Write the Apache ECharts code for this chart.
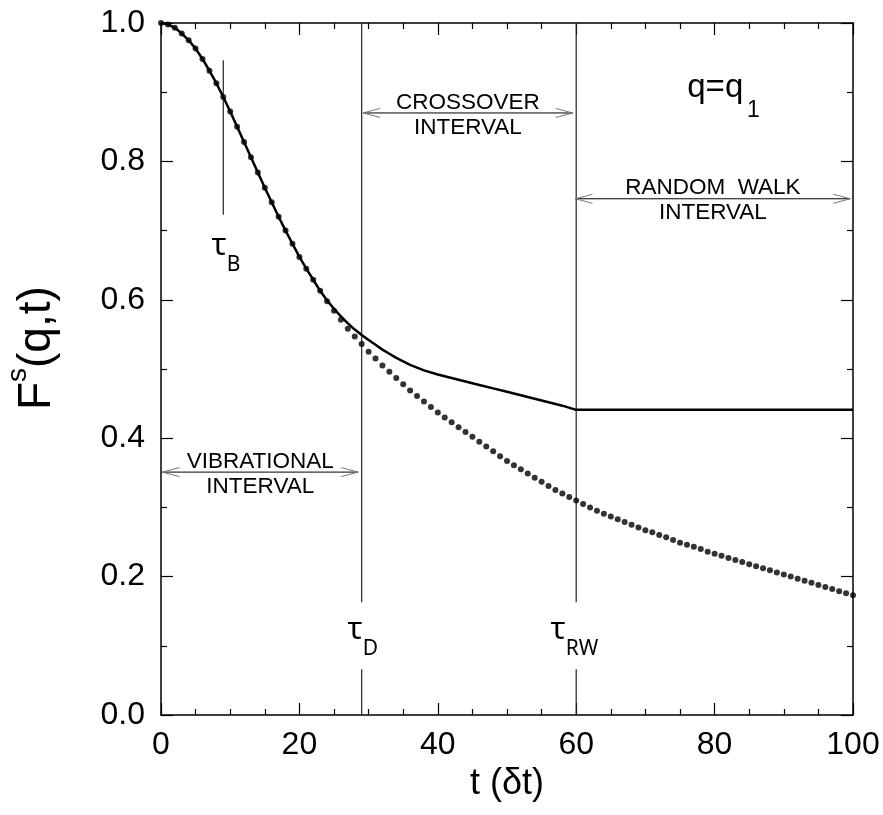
<!DOCTYPE html>
<html><head><meta charset="utf-8">
<script src="https://cdn.jsdelivr.net/npm/echarts@6/dist/echarts.min.js"></script>
<style>html,body{margin:0;padding:0;background:#fff}#c{width:883px;height:815px}</style>
</head><body><div id="c"></div>
<script>
// Dotted curve: one point per time unit, t = 0 .. 100
const fDots = [
 1.000,0.998,0.993,0.985,0.975,0.963,0.948,0.931,0.913,0.893,
 0.872,0.850,0.828,0.806,0.784,0.762,0.741,0.720,0.700,0.681,
 0.662,0.645,0.629,0.613,0.598,0.584,0.571,0.558,0.547,0.536,
 0.525,0.515,0.505,0.496,0.487,0.478,0.469,0.461,0.453,0.445,
 0.437,0.430,0.423,0.416,0.409,0.402,0.395,0.388,0.381,0.374,
 0.367,0.361,0.355,0.349,0.343,0.337,0.331,0.325,0.320,0.315,
 0.310,0.305,0.300,0.295,0.291,0.287,0.283,0.279,0.275,0.271,
 0.267,0.264,0.260,0.257,0.253,0.249,0.246,0.243,0.240,0.236,
 0.233,0.230,0.227,0.224,0.221,0.218,0.215,0.212,0.209,0.206,
 0.203,0.200,0.197,0.194,0.191,0.188,0.185,0.182,0.179,0.176,
 0.173
];
// Solid curve
const tSolid = [0,1,2,3,4,5,6,7,8,9,10,11,12,13,14,15,16,17,18,19,20,21,22,23,24,
 25,26,27,28,29,30,31,32,33,34,36,38,40,42,44,46,48,50,52,54,56,58,60,100];
const fSolid = [1.000,0.998,0.993,0.985,0.975,0.963,0.948,0.931,0.913,0.893,
 0.872,0.850,0.828,0.806,0.784,0.762,0.741,0.720,0.700,0.681,
 0.662,0.645,0.629,0.613,0.599,
 0.587,0.576,0.566,0.557,0.549,0.542,0.535,0.528,0.522,0.516,0.506,0.498,0.492,0.487,0.482,0.477,0.472,0.467,0.462,0.457,0.452,0.447,0.441,0.441];
// Characteristic times (τ_B, τ_D, τ_RW)
const tauTimes = [9, 29, 60];
const tauNames = ['B', 'D', 'RW'];
// Interval arrows: [t start, t end, F level]
const arrowSpans = [[0.2, 28.5, 0.351], [29.2, 59.5, 0.870], [59.9, 99.6, 0.746]];
const arrowTexts = [['VIBRATIONAL', 'INTERVAL'], ['CROSSOVER', 'INTERVAL'], ['RANDOM  WALK', 'INTERVAL']];
const xTicks = [0, 20, 40, 60, 80, 100];
const yTicks = [0.0, 0.2, 0.4, 0.6, 0.8, 1.0];

const FONT = '"Liberation Sans", Arial, sans-serif';
const chart = echarts.init(document.getElementById('c'), null, {renderer: 'canvas'});

// vertical marker segments [t, f1, f2]
const vSegs = [
  [tauTimes[0], 0.946, 0.723],
  [tauTimes[1], 1.0, 0.163], [tauTimes[1], 0.066, 0.0],
  [tauTimes[2], 1.0, 0.163], [tauTimes[2], 0.066, 0.0]
];
// τ label anchors: [t junction, f of τ centre, f of subscript centre]
const tauLabelPos = [[9.36, 0.678, 0.650], [29.0, 0.123, 0.095], [58.35, 0.123, 0.095]];

const axisCommon = {
  type: 'value',
  axisLine: {show: true, onZero: false, lineStyle: {color: '#000', width: 1.5}},
  axisTick: {show: true, inside: true, length: 12, lineStyle: {color: '#000', width: 1.2}},
  minorTick: {show: true, length: 6, lineStyle: {color: '#000', width: 1.2}},
  splitLine: {show: false}
};

chart.setOption({
  animation: false,
  backgroundColor: '#fff',
  grid: {left: 161, right: 30, top: 23, bottom: 100, containLabel: false},
  graphic: [{
    type: 'group', x: 37, y: 410, rotation: Math.PI / 2, silent: true,
    children: [
      {type: 'text', x: 0, y: 0, style: {text: 'F', font: '46px ' + FONT, fill: '#000', align: 'left', verticalAlign: 'middle'}},
      {type: 'text', x: 28, y: -19, style: {text: 's', font: '28px ' + FONT, fill: '#000', align: 'left', verticalAlign: 'middle'}},
      {type: 'text', x: 42, y: 0, style: {text: '(q,t)', font: '46px ' + FONT, fill: '#000', align: 'left', verticalAlign: 'middle'}}
    ]
  }],
  xAxis: [
    Object.assign({}, axisCommon, {
      position: 'bottom', min: 0, max: 100, interval: 20,
      minorTick: Object.assign({}, axisCommon.minorTick, {splitNumber: 4}),
      axisLabel: {color: '#000', fontSize: 32, fontFamily: FONT, margin: 14,
        formatter: v => xTicks.includes(v) ? String(v) : ''},
      name: 't (δt)', nameLocation: 'middle', nameGap: 40,
      nameTextStyle: {color: '#000', fontSize: 36, fontFamily: FONT}
    }),
    Object.assign({}, axisCommon, {
      position: 'top', min: 0, max: 100, interval: 20,
      minorTick: Object.assign({}, axisCommon.minorTick, {splitNumber: 4}),
      axisLabel: {show: false}
    })
  ],
  yAxis: [
    Object.assign({}, axisCommon, {
      position: 'left', min: 0, max: 1, interval: 0.2,
      minorTick: Object.assign({}, axisCommon.minorTick, {splitNumber: 2}),
      axisLabel: {color: '#000', fontSize: 32, fontFamily: FONT, margin: 16,
        formatter: v => v.toFixed(1)}
    }),
    Object.assign({}, axisCommon, {
      position: 'right', min: 0, max: 1, interval: 0.2,
      minorTick: Object.assign({}, axisCommon.minorTick, {splitNumber: 2}),
      axisLabel: {show: false}
    })
  ],
  series: [
    {
      type: 'custom', name: 'markers', xAxisIndex: 0, yAxisIndex: 0,
      data: vSegs, encode: {x: 0, y: [1, 2]}, silent: true, z: 1,
      renderItem: (params, api) => {
        const a = api.coord([api.value(0), api.value(1)]);
        const b = api.coord([api.value(0), api.value(2)]);
        return {type: 'line', shape: {x1: a[0], y1: a[1], x2: b[0], y2: b[1]},
          style: {stroke: '#222', lineWidth: 1.2}};
      }
    },
    {
      type: 'custom', name: 'tauLabels', xAxisIndex: 0, yAxisIndex: 0,
      data: tauLabelPos, encode: {x: 0, y: [1, 2]}, silent: true, z: 3,
      renderItem: (params, api) => {
        const p = api.coord([api.value(0), api.value(1)]);
        const q = api.coord([api.value(0), api.value(2)]);
        return {type: 'group', children: [
          {type: 'text', x: p[0] + 1, y: p[1],
            style: {text: 'τ', font: '31px "Noto Sans", "DejaVu Sans", sans-serif', fill: '#000', align: 'right', verticalAlign: 'middle'}},
          {type: 'text', x: q[0] + 1, y: q[1],
            style: {text: tauNames[params.dataIndex], font: '21px "Noto Sans", "DejaVu Sans", sans-serif', fill: '#000', align: 'left', verticalAlign: 'middle'}}
        ]};
      }
    },
    {
      type: 'custom', name: 'arrows', xAxisIndex: 0, yAxisIndex: 0,
      data: arrowSpans, encode: {x: [0, 1], y: 2}, silent: true, z: 3,
      renderItem: (params, api) => {
        const a = api.coord([api.value(0), api.value(2)]);
        const b = api.coord([api.value(1), api.value(2)]);
        const L = 17, H = 4.5;
        const txt = arrowTexts[params.dataIndex];
        const mx = (a[0] + b[0]) / 2;
        return {type: 'group', children: [
          {type: 'line', shape: {x1: a[0], y1: a[1], x2: b[0], y2: b[1]}, style: {stroke: '#000', lineWidth: 1}},
          {type: 'polyline', shape: {points: [[a[0] + L, a[1] - H], [a[0], a[1]], [a[0] + L, a[1] + H]]}, style: {stroke: '#777', fill: null, lineWidth: 1}},
          {type: 'polyline', shape: {points: [[b[0] - L, b[1] - H], [b[0], b[1]], [b[0] - L, b[1] + H]]}, style: {stroke: '#777', fill: null, lineWidth: 1}},
          {type: 'text', x: mx, y: a[1] + 1, style: {text: txt[0], font: '22.5px ' + FONT, fill: '#000', align: 'center', verticalAlign: 'bottom'}},
          {type: 'text', x: mx, y: a[1] + 3, style: {text: txt[1], font: '22.5px ' + FONT, fill: '#000', align: 'center', verticalAlign: 'top'}}
        ]};
      }
    },
    {
      type: 'custom', name: 'qlabel', xAxisIndex: 0, yAxisIndex: 0,
      data: [[76.05, 0.906, 84.7, 0.874]], encode: {x: [0, 2], y: [1, 3]}, silent: true, z: 3,
      renderItem: (params, api) => {
        const p = api.coord([api.value(0), api.value(1)]);
        const q = api.coord([api.value(2), api.value(3)]);
        return {type: 'group', children: [
          {type: 'text', x: p[0], y: p[1], style: {text: 'q=q', font: '33px ' + FONT, fill: '#000', align: 'left', verticalAlign: 'middle'}},
          {type: 'text', x: q[0], y: q[1], style: {text: '1', font: '23px ' + FONT, fill: '#000', align: 'left', verticalAlign: 'middle'}}
        ]};
      }
    },
    {
      type: 'line', name: 'solid', xAxisIndex: 0, yAxisIndex: 0,
      data: tSolid.map((t, i) => [t, fSolid[i]]),
      showSymbol: false, symbol: 'none', smooth: false,
      lineStyle: {color: '#000', width: 2.5}, z: 4
    },
    {
      type: 'scatter', name: 'dots', xAxisIndex: 0, yAxisIndex: 0,
      data: fDots.map((f, i) => [i, f]),
      symbol: 'circle', symbolSize: 6,
      itemStyle: {color: '#000'}, z: 5
    }
  ]
});
</script>
</body></html>
